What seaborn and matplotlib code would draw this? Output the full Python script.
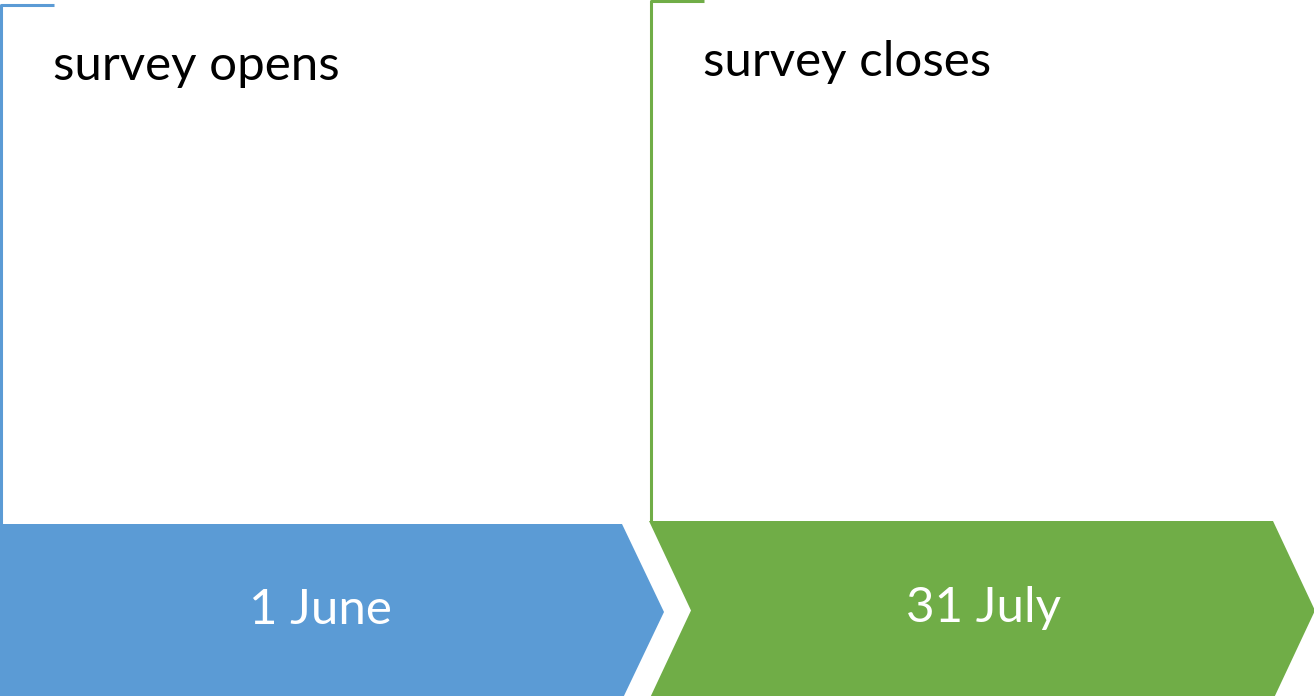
import matplotlib
matplotlib.use("Agg")
import matplotlib.pyplot as plt
import seaborn as sns
import pandas as pd

# data
stages = ["survey opens", "survey closes"]
dates = ["1 June", "31 July"]
colors = ["#5B9BD5", "#70AD47"]

sns.set_theme(style="white")
plt.rcParams['font.family'] = ['Lato', 'DejaVu Sans']

W, H = 1314, 696
fig = plt.figure(figsize=(W / 100, H / 100), dpi=100)
ax = fig.add_axes([0, 0, 1, 1])
ax.set_xlim(0, W)
ax.set_ylim(H, 0)
ax.axis("off")

# layout (pixels)
lefts = [0, 649]
tops = [524, 521]
bottom = 700
arrow_len = 42
body_right = [622, 1273]
line_x = [1, 651]
line_top = [5, 1]
label_y = [66, 62]
date_dx = [-12, -20]

for i, (stage, date, c) in enumerate(zip(stages, dates, colors)):
    top = tops[i]
    mid = (top + bottom) / 2
    L, R = lefts[i], body_right[i]
    if i == 0:
        xs = [L, R, R + arrow_len, R, L]
        ys = [top, top, mid, bottom, bottom]
    else:
        xs = [L, R, R + arrow_len, R, L, L + arrow_len]
        ys = [top, top, mid, bottom, bottom, mid]
    ax.fill(xs, ys, color=c, lw=0)
    # bracket line
    ax.plot([line_x[i], line_x[i], line_x[i] + 53],
            [top, line_top[i], line_top[i]], color=c, lw=2.2,
            solid_capstyle="butt")
    ax.text(line_x[i] + 52, label_y[i], stage, fontsize=35.5, color="black",
            va="center", ha="left")
    cx = (L + (arrow_len if i else 0) + R + arrow_len) / 2 + date_dx[i]
    ax.text(cx, mid - 2, date, fontsize=35.5, color="white",
            va="center", ha="center")

fig.savefig("out.png", dpi=100)
